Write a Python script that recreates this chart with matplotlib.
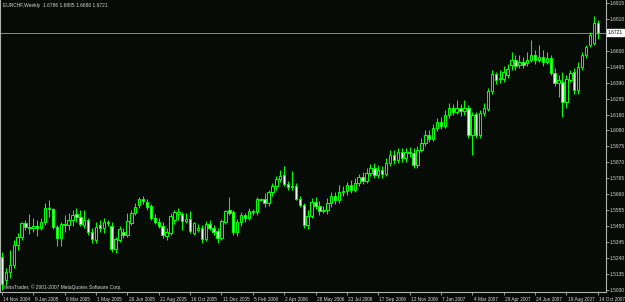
import datetime as dt
import matplotlib
matplotlib.use("Agg")
import matplotlib.pyplot as plt
import matplotlib.transforms as mtransforms
import numpy as np

# Weekly EURCHF OHLC, week starting 14 Nov 2004
opens = [1.5246,1.5095,1.5148,1.5194,1.5325,1.5378,1.5470,1.5444,1.5437,1.5450,
         1.5437,1.5476,1.5568,1.5562,1.5444,1.5371,1.5463,1.5457,1.5490,1.5529,
         1.5509,1.5457,1.5490,1.5411,1.5358,1.5457,1.5437,1.5470,1.5450,1.5299,
         1.5358,1.5411,1.5391,1.5470,1.5536,1.5588,1.5628,1.5608,1.5582,1.5503,
         1.5476,1.5450,1.5384,1.5404,1.5490,1.5529,1.5529,1.5483,1.5496,1.5404,
         1.5424,1.5437,1.5365,1.5463,1.5437,1.5417,1.5371,1.5476,1.5555,1.5542,
         1.5411,1.5476,1.5522,1.5503,1.5549,1.5542,1.5628,1.5628,1.5601,1.5673,
         1.5713,1.5759,1.5785,1.5726,1.5706,1.5713,1.5628,1.5588,1.5457,1.5516,
         1.5608,1.5582,1.5549,1.5555,1.5601,1.5647,1.5621,1.5673,1.5680,1.5719,
         1.5687,1.5733,1.5772,1.5746,1.5798,1.5831,1.5785,1.5818,1.5792,1.5864,
         1.5917,1.5884,1.5937,1.5897,1.5937,1.5930,1.5851,1.5950,1.5996,1.6048,
         1.6022,1.6094,1.6133,1.6107,1.6179,1.6225,1.6199,1.6225,1.6206,1.6225,
         1.6048,1.6186,1.6048,1.6193,1.6219,1.6337,1.6449,1.6416,1.6416,1.6442,
         1.6508,1.6541,1.6508,1.6528,1.6521,1.6541,1.6574,1.6541,1.6561,1.6528,
         1.6554,1.6455,1.6390,1.6396,1.6265,1.6409,1.6462,1.6344,1.6495,1.6574,
         1.6639,1.6652,1.6786]
highs = [1.5279,1.5174,1.5292,1.5358,1.5404,1.5476,1.5490,1.5529,1.5503,1.5490,
         1.5503,1.5601,1.5621,1.5568,1.5457,1.5476,1.5522,1.5536,1.5555,1.5568,
         1.5555,1.5555,1.5503,1.5437,1.5476,1.5490,1.5503,1.5490,1.5476,1.5378,
         1.5450,1.5437,1.5536,1.5555,1.5601,1.5641,1.5647,1.5628,1.5595,1.5529,
         1.5503,1.5476,1.5437,1.5536,1.5555,1.5568,1.5542,1.5536,1.5549,1.5476,
         1.5463,1.5457,1.5483,1.5490,1.5457,1.5437,1.5496,1.5555,1.5641,1.5555,
         1.5496,1.5542,1.5536,1.5568,1.5562,1.5641,1.5634,1.5667,1.5687,1.5733,
         1.5779,1.5818,1.5845,1.5746,1.5811,1.5733,1.5647,1.5601,1.5555,1.5634,
         1.5641,1.5614,1.5582,1.5634,1.5673,1.5673,1.5719,1.5713,1.5739,1.5752,
         1.5765,1.5792,1.5805,1.5831,1.5858,1.5864,1.5851,1.5845,1.5897,1.5950,
         1.5950,1.5963,1.5963,1.5963,1.5969,1.5963,1.5976,1.6028,1.6081,1.6081,
         1.6120,1.6160,1.6166,1.6212,1.6258,1.6252,1.6278,1.6252,1.6278,1.6245,
         1.6199,1.6199,1.6212,1.6258,1.6357,1.6475,1.6462,1.6475,1.6501,1.6515,
         1.6593,1.6574,1.6574,1.6561,1.6593,1.6672,1.6607,1.6639,1.6607,1.6593,
         1.6574,1.6488,1.6442,1.6462,1.6442,1.6475,1.6488,1.6528,1.6593,1.6639,
         1.6725,1.6830,1.6805]
lows = [1.5030,1.5062,1.5108,1.5174,1.5292,1.5358,1.5424,1.5398,1.5411,1.5384,
        1.5424,1.5457,1.5509,1.5430,1.5319,1.5319,1.5411,1.5424,1.5450,1.5476,
        1.5450,1.5437,1.5391,1.5338,1.5338,1.5411,1.5404,1.5450,1.5279,1.5273,
        1.5345,1.5371,1.5378,1.5457,1.5522,1.5568,1.5595,1.5555,1.5490,1.5463,
        1.5437,1.5371,1.5358,1.5391,1.5463,1.5490,1.5424,1.5470,1.5404,1.5391,
        1.5411,1.5338,1.5352,1.5424,1.5391,1.5338,1.5358,1.5463,1.5522,1.5391,
        1.5384,1.5450,1.5476,1.5490,1.5522,1.5522,1.5614,1.5575,1.5582,1.5647,
        1.5687,1.5739,1.5713,1.5687,1.5687,1.5621,1.5575,1.5437,1.5430,1.5503,
        1.5562,1.5522,1.5536,1.5529,1.5575,1.5595,1.5601,1.5647,1.5654,1.5667,
        1.5673,1.5713,1.5726,1.5733,1.5779,1.5765,1.5765,1.5765,1.5779,1.5845,
        1.5858,1.5864,1.5871,1.5871,1.5904,1.5831,1.5831,1.5937,1.5976,1.6002,
        1.6009,1.6074,1.6087,1.6094,1.6160,1.6179,1.6186,1.6173,1.6179,1.6028,
        1.5917,1.6028,1.6028,1.6173,1.6206,1.6317,1.6383,1.6390,1.6396,1.6423,
        1.6475,1.6475,1.6488,1.6488,1.6501,1.6528,1.6515,1.6528,1.6501,1.6515,
        1.6442,1.6370,1.6298,1.6166,1.6225,1.6396,1.6317,1.6317,1.6475,1.6554,
        1.6626,1.6639,1.6680]
closes = [1.5069,1.5148,1.5194,1.5325,1.5378,1.5470,1.5444,1.5437,1.5450,1.5437,
          1.5476,1.5568,1.5562,1.5444,1.5371,1.5463,1.5457,1.5490,1.5522,1.5509,
          1.5463,1.5490,1.5411,1.5365,1.5444,1.5437,1.5476,1.5476,1.5299,1.5365,
          1.5430,1.5391,1.5483,1.5536,1.5575,1.5628,1.5614,1.5575,1.5503,1.5476,
          1.5450,1.5391,1.5411,1.5516,1.5542,1.5542,1.5483,1.5496,1.5417,1.5470,
          1.5437,1.5365,1.5463,1.5437,1.5411,1.5371,1.5483,1.5549,1.5536,1.5411,
          1.5476,1.5522,1.5503,1.5549,1.5542,1.5628,1.5624,1.5601,1.5673,1.5713,
          1.5759,1.5779,1.5726,1.5706,1.5713,1.5628,1.5588,1.5457,1.5516,1.5608,
          1.5582,1.5549,1.5555,1.5601,1.5647,1.5621,1.5673,1.5680,1.5719,1.5687,
          1.5733,1.5772,1.5746,1.5798,1.5831,1.5785,1.5818,1.5792,1.5864,1.5917,
          1.5884,1.5937,1.5897,1.5937,1.5930,1.5851,1.5950,1.5996,1.6048,1.6022,
          1.6094,1.6133,1.6107,1.6179,1.6225,1.6199,1.6225,1.6206,1.6225,1.6048,
          1.6179,1.6048,1.6193,1.6225,1.6337,1.6449,1.6409,1.6423,1.6462,1.6482,
          1.6541,1.6501,1.6528,1.6508,1.6541,1.6574,1.6541,1.6561,1.6528,1.6554,
          1.6455,1.6390,1.6409,1.6265,1.6416,1.6455,1.6344,1.6495,1.6574,1.6626,
          1.6705,1.6786,1.6721]

start_date = dt.date(2004, 11, 14)
dates = [start_date + dt.timedelta(weeks=i) for i in range(len(closes))]

price_ticks = [1.6915, 1.6810, 1.6600, 1.6495, 1.6390, 1.6285, 1.6180, 1.6080,
               1.5975, 1.5870, 1.5765, 1.5660, 1.5555, 1.5450, 1.5345, 1.5240,
               1.5135, 1.5030]
current_price = closes[-1]
title_text = "EURCHF,Weekly  1.6786 1.6805 1.6680 1.6721"
footer_text = "MetaTrader, \u00a9 2001-2007 MetaQuotes Software Corp."

BG = "#060b06"
GREEN = "#00ff00"
GRAY = "#b0b0b0"
TXT = "#d8d8d8"
FONT = "Liberation Sans"

fig = plt.figure(figsize=(6.25, 3.02), dpi=100)
fig.patch.set_facecolor(BG)
ax = fig.add_axes([0.0, 10 / 302, 606 / 625, 292 / 302])
ax.set_facecolor(BG)

x = np.arange(len(closes))
o = np.array(opens); h = np.array(highs); l = np.array(lows); c = np.array(closes)
up = c >= o

ax.vlines(x, l, h, color=GREEN, linewidth=0.75, zorder=2)
body_bottom = np.minimum(o, c)
body_h = np.maximum(np.abs(c - o), 0.00015)
ax.bar(x[up], body_h[up], bottom=body_bottom[up], width=0.62,
       color="black", edgecolor=GREEN, linewidth=0.75, zorder=3)
ax.bar(x[~up], body_h[~up], bottom=body_bottom[~up], width=0.62,
       color="#f4fff4", edgecolor=GREEN, linewidth=0.75, zorder=3)

ax.axhline(current_price, color="#8a8a8a", linewidth=0.7, zorder=1)

ax.set_xlim(-0.5, 154.1)
ax.set_ylim(1.6935 - 0.000657 * 292, 1.6935)

ax.spines["top"].set_visible(False)
for s in ["left", "right", "bottom"]:
    ax.spines[s].set_color(GRAY)
    ax.spines[s].set_linewidth(0.8)

ax.yaxis.tick_right()
ax.set_yticks(price_ticks)
ax.set_yticklabels([f"{p:.4f}" for p in price_ticks], fontfamily=FONT)
ax.tick_params(axis="y", colors=GRAY, labelcolor=TXT, labelsize=3.5,
               length=2.0, width=0.6, pad=0.8)

tick_idx = list(range(0, len(closes), 8))
ax.set_xticks(tick_idx)
ax.set_xticklabels([f"{dates[i].day} {dates[i].strftime('%b %Y')}" for i in tick_idx],
                   ha="left", fontfamily=FONT)
ax.tick_params(axis="x", colors=GRAY, labelcolor=TXT, labelsize=3.4,
               length=2.5, width=0.6, pad=0.8)
shift = mtransforms.ScaledTranslation(1.2 / 100, 0, fig.dpi_scale_trans)
for lab in ax.get_xticklabels():
    lab.set_transform(lab.get_transform() + shift)

ax.text(3 / 606, 1 - 6 / 292, title_text, transform=ax.transAxes,
        color=TXT, fontsize=3.5, fontfamily=FONT, ha="left", va="center")
ax.text(3 / 606, 5 / 292, footer_text, transform=ax.transAxes,
        color=TXT, fontsize=3.5, fontfamily=FONT, ha="left", va="center")

ax.annotate(f"{current_price:.4f}", xy=(1.0, current_price), xycoords=("axes fraction", "data"),
            xytext=(1.5, 0), textcoords="offset points", ha="left", va="center",
            fontsize=3.5, fontfamily=FONT, color="black", annotation_clip=False,
            bbox=dict(boxstyle="square,pad=0.15", fc="white", ec="white"))

fig.savefig("out.png", dpi=100, facecolor=BG)
